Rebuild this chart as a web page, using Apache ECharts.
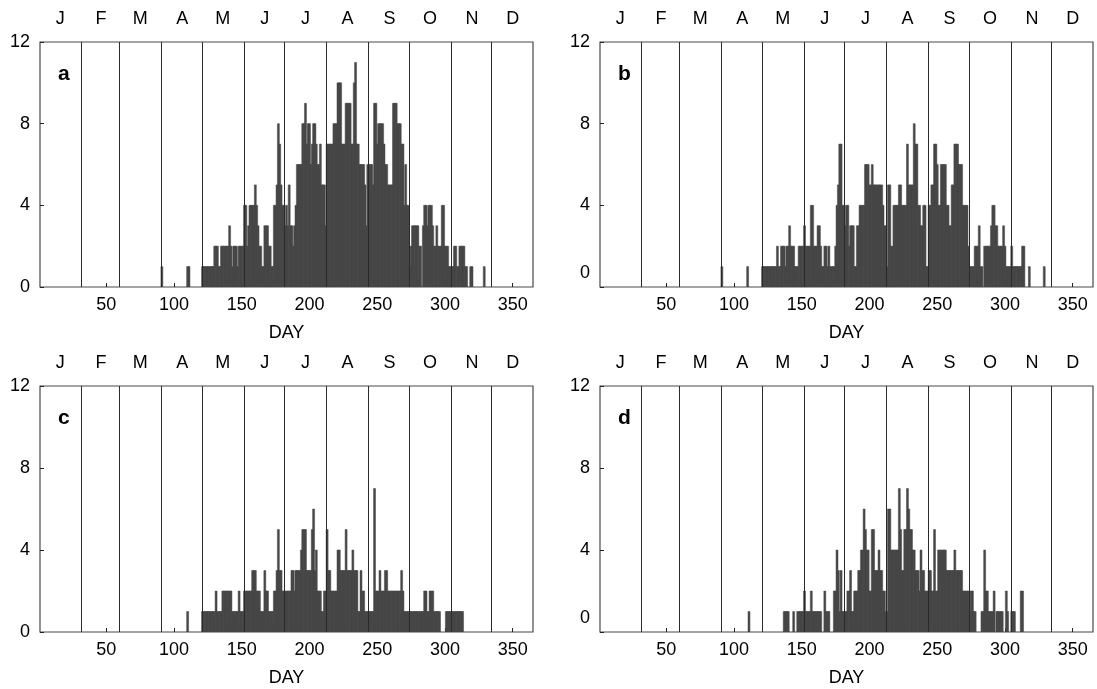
<!DOCTYPE html>
<html><head><meta charset="utf-8">
<script src="https://cdn.jsdelivr.net/npm/echarts@6/dist/echarts.min.js"></script>
<style>html,body{margin:0;padding:0;background:#fff}#c{width:1097px;height:689px}</style>
</head><body><div id="c"></div>
<script>
// day of year of the first value in every count array
const firstDay = 81;

// daily counts, days 81..340 (10 per line)
const countsA = [
  0,0,0,0,0,0,0,0,0,0,
  1,0,0,0,0,0,0,0,0,0,
  0,0,0,0,0,0,0,0,0,1,
  1,0,0,0,0,0,0,0,0,0,
  1,1,1,1,1,1,1,1,1,2,
  2,2,1,1,2,2,2,2,2,2,
  3,2,1,2,2,2,1,2,2,2,
  2,4,4,2,3,4,4,4,4,5,
  4,3,2,2,1,1,3,3,3,2,
  2,1,1,4,4,5,8,7,5,4,
  4,3,4,3,5,3,3,2,3,4,
  6,6,6,6,8,8,9,7,8,8,
  6,7,8,8,7,6,6,7,5,5,
  5,3,7,7,7,7,7,8,8,8,
  10,10,10,7,7,7,9,9,9,9,
  7,7,10,11,7,7,6,6,6,6,
  5,3,6,6,6,6,5,9,9,7,
  8,8,8,8,7,6,6,5,5,5,
  5,9,9,9,8,8,8,7,7,4,
  6,4,4,1,2,3,3,3,3,3,
  2,2,0,3,4,4,3,4,4,4,
  3,2,2,3,2,2,2,4,4,2,
  2,2,1,1,1,1,2,2,1,1,
  2,2,2,2,1,1,0,0,1,1,
  0,0,0,0,0,0,0,0,1,0,
  0,0,0,0,0,0,0,0,0,0
];
const countsB = [
  0,0,0,0,0,0,0,0,0,0,
  1,0,0,0,0,0,0,0,0,0,
  0,0,0,0,0,0,0,0,0,1,
  0,0,0,0,0,0,0,0,0,0,
  1,1,1,1,1,1,1,1,1,1,
  1,2,1,1,2,2,2,1,2,2,
  3,2,2,2,1,1,1,2,2,2,
  2,3,2,2,2,2,4,4,2,2,
  2,3,3,2,1,1,2,2,1,2,
  1,1,1,1,2,4,5,7,7,4,
  4,3,4,4,2,3,3,3,1,1,
  3,3,4,4,4,4,6,6,6,5,
  5,6,5,5,5,5,5,5,5,4,
  3,3,1,5,5,2,2,4,4,4,
  4,5,5,4,4,4,4,7,5,5,
  5,5,8,7,7,4,4,3,3,4,
  4,1,1,4,4,5,5,7,7,6,
  4,4,6,6,6,6,4,4,3,3,
  5,5,7,7,7,6,6,6,4,4,
  4,4,2,1,1,1,1,2,2,2,
  3,1,1,0,2,2,2,2,2,3,
  4,4,3,3,2,2,2,2,3,2,
  1,1,1,1,2,1,1,1,1,1,
  1,1,2,2,0,0,0,1,0,0,
  0,0,0,0,0,0,0,0,1,0,
  0,0,0,0,0,0,0,0,0,0
];
const countsC = [
  0,0,0,0,0,0,0,0,0,0,
  0,0,0,0,0,0,0,0,0,0,
  0,0,0,0,0,0,0,0,0,1,
  0,0,0,0,0,0,0,0,0,0,
  1,1,1,1,1,1,1,1,1,1,
  2,1,1,1,1,2,2,2,2,2,
  2,2,1,1,1,1,1,2,1,1,
  1,2,2,2,2,2,2,3,3,3,
  2,2,2,1,1,1,3,2,2,1,
  1,1,1,2,2,3,5,3,3,2,
  2,2,2,2,2,2,3,3,2,3,
  3,3,3,4,5,5,5,3,3,3,
  3,5,6,3,4,2,2,2,1,1,
  2,2,5,3,3,2,2,2,2,2,
  4,4,3,3,3,3,5,3,3,3,
  3,4,3,3,3,1,1,3,2,2,
  1,1,1,1,1,1,1,7,2,2,
  2,3,2,2,2,3,3,2,2,2,
  2,2,2,2,2,2,2,3,2,1,
  1,1,1,1,1,1,1,1,1,1,
  1,1,1,1,2,2,1,1,2,2,
  2,1,1,1,1,1,0,0,0,0,
  1,1,1,1,1,1,1,1,1,1,
  1,1,1,0,0,0,0,0,0,0,
  0,0,0,0,0,0,0,0,0,0,
  0,0,0,0,0,0,0,0,0,0
];
const countsD = [
  0,0,0,0,0,0,0,0,0,0,
  0,0,0,0,0,0,0,0,0,0,
  0,0,0,0,0,0,0,0,0,0,
  1,0,0,0,0,0,0,0,0,0,
  0,0,0,0,0,0,0,0,0,0,
  0,0,0,0,0,0,1,1,1,1,
  0,0,0,1,0,0,1,1,1,1,
  1,2,1,1,1,1,2,1,1,1,
  1,1,1,1,0,0,2,1,1,1,
  0,0,0,2,2,4,3,1,3,1,
  1,1,1,2,2,3,1,1,2,2,
  2,3,3,4,4,6,5,4,4,2,
  2,5,5,3,3,3,4,3,3,2,
  2,1,1,6,6,4,4,4,4,4,
  4,7,5,3,3,5,5,7,6,5,
  5,4,4,3,3,3,2,4,3,3,
  2,2,2,3,3,2,2,5,2,2,
  4,4,4,4,4,4,3,3,3,3,
  3,3,4,3,3,3,3,3,2,2,
  2,2,2,1,2,2,1,1,0,0,
  0,0,1,1,4,2,2,1,1,1,
  1,2,0,1,1,1,1,1,0,0,
  2,1,0,0,1,1,1,0,0,0,
  0,2,2,0,0,0,0,0,0,0,
  0,0,0,0,0,0,0,0,0,0,
  0,0,0,0,0,0,0,0,0,0
];

const panelLetters = ['a', 'b', 'c', 'd'];
const monthStarts = [32, 60, 91, 121, 152, 182, 213, 244, 274, 305, 335];
const monthMids = [16, 46, 75, 106, 136, 167, 197, 228, 259, 289, 320, 350];
const monthLetters = ['J', 'F', 'M', 'A', 'M', 'J', 'J', 'A', 'S', 'O', 'N', 'D'];
const dayTicks = [50, 100, 150, 200, 250, 300, 350];
const yTicks = [0, 4, 8, 12];
const dayMin = 1, dayMax = 365;

const allCounts = [countsA, countsB, countsC, countsD];
const raisedZero = [false, true, false, true];

const FONT = '"Liberation Sans", Arial, Helvetica, sans-serif';
const BAR = '#474747';
const FRAME = '#4a4a4a';

const grids = [
  {left: 40, top: 42, width: 493, height: 245},
  {left: 600, top: 42, width: 493, height: 245},
  {left: 40, top: 386, width: 493, height: 246},
  {left: 600, top: 386, width: 493, height: 246}
];

const chart = echarts.init(document.getElementById('c'), null, {renderer: 'canvas'});

const option = {
  animation: false,
  backgroundColor: '#fff',
  textStyle: {fontFamily: FONT, color: '#000'},
  title: panelLetters.map((t, i) => ({
    text: t,
    left: grids[i].left + 13,
    top: grids[i].top + 17,
    textStyle: {fontFamily: FONT, fontSize: 21, fontWeight: 'bold', color: '#000'}
  })),
  grid: grids.map(g => Object.assign({show: true, borderColor: FRAME, borderWidth: 1.2, backgroundColor: 'transparent'}, g)),
  xAxis: [],
  yAxis: [],
  series: []
};

grids.forEach((g, i) => {
  // bottom day axis
  option.xAxis.push({
    type: 'value', gridIndex: i, min: dayMin, max: dayMax, position: 'bottom',
    axisLine: {show: false},
    splitLine: {show: false},
    axisTick: {show: true, inside: true, length: 4, customValues: dayTicks, lineStyle: {color: '#222'}},
    axisLabel: {show: true, customValues: dayTicks, margin: 9, fontFamily: FONT, fontSize: 18, color: '#000'},
    name: 'DAY', nameLocation: 'middle', nameGap: 37,
    nameTextStyle: {fontFamily: FONT, fontSize: 18, color: '#000'}
  });
  // top month axis
  option.xAxis.push({
    type: 'value', gridIndex: i, min: dayMin, max: dayMax, position: 'top',
    axisLine: {show: false},
    splitLine: {show: false},
    axisTick: {show: false},
    axisLabel: {
      show: true, customValues: monthMids, margin: 14,
      fontFamily: FONT, fontSize: 18, color: '#000',
      formatter: v => monthLetters[monthMids.indexOf(v)] || ''
    }
  });
  option.yAxis.push({
    type: 'value', gridIndex: i, min: 0, max: 12, interval: 4,
    axisLine: {show: false},
    splitLine: {show: false},
    axisTick: {show: true, inside: true, length: 4, lineStyle: {color: '#222'}},
    axisLabel: {
      show: true, margin: 10, fontFamily: FONT, fontSize: 18, color: '#000',
      formatter: v => (raisedZero[i] && v === 0) ? '{z|0}' : String(v),
      rich: {z: {fontFamily: FONT, fontSize: 18, color: '#000', padding: [0, 0, 27, 0]}}
    }
  });

  const data = [];
  allCounts[i].forEach((v, k) => { if (v > 0) data.push([firstDay + k, v]); });

  option.series.push({
    type: 'custom',
    xAxisIndex: i * 2, yAxisIndex: i,
    clip: true,
    data: data,
    renderItem: function (params, api) {
      const d = api.value(0), v = api.value(1);
      const p0 = api.coord([d - 0.5, v]);
      const p1 = api.coord([d + 0.5, 0]);
      return {
        type: 'rect',
        shape: {x: p0[0] - 0.3, y: p0[1], width: p1[0] - p0[0] + 0.6, height: p1[1] - p0[1]},
        style: {fill: BAR, stroke: BAR, lineWidth: 0.5}
      };
    },
    markLine: {
      silent: true, symbol: 'none', animation: false,
      label: {show: false},
      lineStyle: {color: '#2a2a2a', width: 1, type: 'solid'},
      data: monthStarts.map(m => ({xAxis: m - 0.5}))
    },
    z: 2
  });
});

chart.setOption(option);
</script>
</body></html>
